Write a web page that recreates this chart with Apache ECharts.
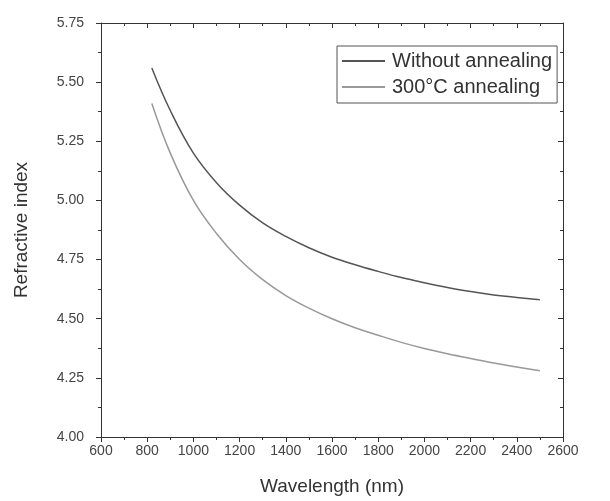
<!DOCTYPE html>
<html>
<head>
<meta charset="utf-8">
<script src="https://cdn.jsdelivr.net/npm/echarts@6/dist/echarts.min.js"></script>
<style>html,body{margin:0;padding:0;background:#fff}#c{width:610px;height:501px}</style>
</head>
<body>
<div id="c"></div>
<script>
var wavelength = [820, 900, 1000, 1100, 1200, 1300, 1400, 1500, 1600, 1700, 1800, 1900, 2000, 2100, 2200, 2300, 2400, 2500];
var withoutAnnealing = [5.56, 5.38, 5.20, 5.075, 4.98, 4.905, 4.848, 4.80, 4.76, 4.728, 4.70, 4.674, 4.652, 4.632, 4.615, 4.60, 4.59, 4.58];
var annealed300 = [5.41, 5.20, 5.00, 4.86, 4.75, 4.665, 4.598, 4.545, 4.50, 4.462, 4.43, 4.40, 4.374, 4.352, 4.332, 4.313, 4.296, 4.28];
var seriesNames = ['Without annealing', '300\u00b0C annealing'];

function pairs(xs, ys) { return xs.map(function (x, i) { return [x, ys[i]]; }); }

var axisColor = '#333';
var font = 'Liberation Sans, Arial, sans-serif';
var chart = echarts.init(document.getElementById('c'), null, { renderer: 'canvas' });
chart.setOption({
  animation: false,
  backgroundColor: '#fff',
  grid: { left: 101, right: 47, top: 23, bottom: 64, containLabel: false },
  legend: {
    show: true,
    orient: 'vertical', left: 337, top: 46,
    padding: [5, 5, 6, 5], itemGap: 6, itemWidth: 43, itemHeight: 20,
    icon: 'path://M0,9 L43,9 L43,11 L0,11 Z',
    borderColor: '#555', borderWidth: 1,
    textStyle: { fontFamily: font, fontSize: 20, color: '#333', padding: [0, 0, 0, 2] },
    data: seriesNames
  },
  xAxis: [{
    type: 'value', min: 600, max: 2600, interval: 200,
    name: 'Wavelength (nm)', nameLocation: 'middle', nameGap: 40,
    nameTextStyle: { fontFamily: font, fontSize: 19, color: '#333' },
    axisLine: { lineStyle: { color: axisColor, width: 1 } },
    axisTick: { show: true, inside: false, length: 5, lineStyle: { color: axisColor } },
    minorTick: { show: true, splitNumber: 2, length: 3, lineStyle: { color: axisColor } },
    axisLabel: { fontFamily: font, fontSize: 14, color: '#444', margin: 7,
      formatter: function (v) { return String(v); } },
    splitLine: { show: false }
  }, {
    type: 'value', position: 'top', min: 600, max: 2600, interval: 200,
    axisLine: { show: true, lineStyle: { color: axisColor, width: 1 } },
    axisTick: { show: true, inside: true, length: 5, lineStyle: { color: axisColor } },
    minorTick: { show: true, splitNumber: 2, length: 3, lineStyle: { color: axisColor } },
    axisLabel: { show: false }, splitLine: { show: false }
  }],
  yAxis: [{
    type: 'value', min: 4.0, max: 5.75, interval: 0.25,
    name: 'Refractive index', nameLocation: 'middle', nameGap: 70,
    nameTextStyle: { fontFamily: font, fontSize: 19, color: '#333' },
    axisLine: { show: true, lineStyle: { color: axisColor, width: 1 } },
    axisTick: { show: true, inside: false, length: 5, lineStyle: { color: axisColor } },
    minorTick: { show: true, splitNumber: 2, length: 3, lineStyle: { color: axisColor } },
    axisLabel: { fontFamily: font, fontSize: 14, color: '#444', margin: 17,
      formatter: function (v) { return v.toFixed(2); } },
    splitLine: { show: false }
  }, {
    type: 'value', position: 'right', min: 4.0, max: 5.75, interval: 0.25,
    axisLine: { show: true, lineStyle: { color: axisColor, width: 1 } },
    axisTick: { show: true, inside: true, length: 5, lineStyle: { color: axisColor } },
    minorTick: { show: true, splitNumber: 2, length: 3, lineStyle: { color: axisColor } },
    axisLabel: { show: false }, splitLine: { show: false }
  }],
  series: [{
    name: seriesNames[0], type: 'line', smooth: 0.4, showSymbol: false, symbol: 'none',
    data: pairs(wavelength, withoutAnnealing),
    lineStyle: { color: '#555', width: 1.5 }, itemStyle: { color: '#555' }
  }, {
    name: seriesNames[1], type: 'line', smooth: 0.4, showSymbol: false, symbol: 'none',
    data: pairs(wavelength, annealed300),
    lineStyle: { color: '#999', width: 1.5 }, itemStyle: { color: '#999' }
  }]
});
</script>
</body>
</html>
